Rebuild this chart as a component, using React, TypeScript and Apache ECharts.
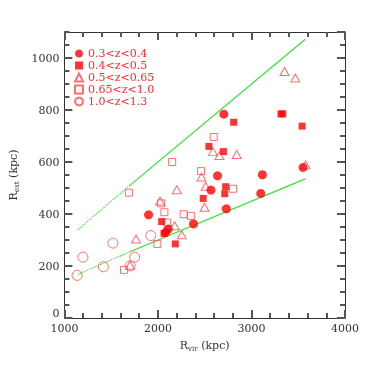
import React, { useEffect, useRef } from "react";
import * as echarts from "echarts";

// z-bin names
const binNames = ["0.3<z<0.4", "0.4<z<0.5", "0.5<z<0.65", "0.65<z<1.0", "1.0<z<1.3"];

// [R_vir, R_ext] in kpc
const bin1: number[][] = [
  [1900, 397], [2085, 330], [2110, 342], [2380, 362], [2567, 492], [2637, 547],
  [2705, 784], [2731, 420], [3099, 479], [3117, 551], [3552, 579],
];
const bin2: number[][] = [
  [2040, 371], [2065, 325], [2186, 285], [2484, 460], [2545, 660], [2700, 640],
  [2714, 478], [2724, 505], [2810, 753], [3315, 785], [3335, 785], [3541, 738],
];
const bin3: number[][] = [
  [1700, 203], [1765, 304], [2022, 450], [2178, 355], [2202, 493], [2254, 320],
  [2465, 542], [2498, 426], [2510, 507], [2588, 640], [2658, 625], [2842, 629],
  [3353, 948], [3468, 923], [3579, 589],
];
const bin4: number[][] = [
  [1638, 185], [1690, 482], [1994, 285], [2035, 441], [2069, 407], [2098, 367],
  [2152, 600], [2275, 399], [2352, 393], [2461, 565], [2596, 696], [2802, 497],
];
const bin5: number[][] = [
  [1136, 164], [1198, 234], [1417, 197], [1518, 288], [1702, 200], [1751, 234], [1923, 317],
];

// green relation lines: dotted (extrapolated) and solid parts
const upperDotted: number[][] = [[1145, 340], [1700, 510]];
const upperSolid: number[][] = [[1700, 510], [3575, 1072]];
const lowerDotted: number[][] = [[1145, 168], [1700, 255]];
const lowerSolid: number[][] = [[1700, 255], [3575, 535]];

const xTicks = [1000, 2000, 3000, 4000];
const yTickLabels = [0, 200, 400, 600, 800, 1000];

const FONT = "DejaVu Serif";
const RED = "#ff0000";
const OPEN = "#ff4a4a";
const GREEN = "#2ee62e";
const AXIS = "#333333";
const TICK = "#555555";

export default function App() {
  const ref = useRef<HTMLDivElement>(null);
  useEffect(() => {
    if (!ref.current) return;
    const chart = echarts.init(ref.current, null, { renderer: "svg" });
    const open = (c: string) => ({ color: "rgba(255,255,255,0)", borderColor: c, borderWidth: 1 });
    const line = (d: number[][], type: string) => ({
      type: "line",
      data: d,
      symbol: "none",
      silent: true,
      z: 1,
      legendHoverLink: false,
      lineStyle: { color: GREEN, width: 1.2, type },
    });
    const subRich = {
      r: { fontFamily: FONT, fontSize: 11, color: "#333" },
      s: { fontFamily: FONT, fontSize: 7, color: "#333", padding: [7, 0, 0, 0] },
    };
    chart.setOption({
      animation: false,
      grid: { left: 57, right: 31, top: 32, bottom: 58 },
      legend: {
        orient: "vertical",
        left: 74,
        top: 48,
        padding: 0,
        itemWidth: 8,
        itemHeight: 8,
        itemGap: 1,
        data: binNames,
        textStyle: { fontFamily: FONT, fontSize: 11, color: "#ff2a2a" },
      },
      xAxis: [
        {
          type: "value",
          min: xTicks[0],
          max: xTicks[xTicks.length - 1],
          interval: 1000,
          splitLine: { show: false },
          axisLine: { show: true, onZero: false, lineStyle: { color: AXIS } },
          axisTick: { show: true, inside: true, length: 8, lineStyle: { color: TICK, width: 2 } },
          minorTick: { show: true, splitNumber: 5, length: 5, lineStyle: { color: TICK, width: 2 } },
          axisLabel: {
            fontFamily: FONT,
            fontSize: 11,
            color: "#333",
            margin: 5,
            formatter: (v: number) => String(v),
          },
          name: "{r|R}{s|vir}{r| (kpc)}",
          nameLocation: "middle",
          nameGap: 20,
          nameTextStyle: { rich: subRich },
        },
        {
          type: "value",
          position: "top",
          min: xTicks[0],
          max: xTicks[xTicks.length - 1],
          interval: 1000,
          splitLine: { show: false },
          axisLine: { show: true, onZero: false, lineStyle: { color: AXIS } },
          axisTick: { show: true, inside: true, length: 8, lineStyle: { color: TICK, width: 2 } },
          minorTick: { show: true, splitNumber: 5, length: 5, lineStyle: { color: TICK, width: 2 } },
          axisLabel: { show: false },
        },
      ],
      yAxis: [
        {
          type: "value",
          min: 0,
          max: 1100,
          interval: 200,
          splitLine: { show: false },
          axisLine: { show: true, onZero: false, lineStyle: { color: AXIS } },
          axisTick: { show: true, inside: true, length: 8, lineStyle: { color: TICK, width: 2 } },
          axisLabel: {
            fontFamily: FONT,
            fontSize: 11,
            color: "#333",
            margin: 5,
            showMaxLabel: false,
            formatter: (v: number) =>
              v === 0 ? "{z|0}" : yTickLabels.indexOf(v) >= 0 ? String(v) : "",
            rich: {
              z: { fontFamily: FONT, fontSize: 11, color: "#333", padding: [0, 0, 10, 0] },
            },
          },
          name: "{r|R}{s|ext}{r| (kpc)}",
          nameLocation: "middle",
          nameRotate: 90,
          nameGap: 40,
          nameTextStyle: { rich: subRich },
        },
        {
          type: "value",
          position: "left",
          min: 0,
          max: 1100,
          interval: 50,
          splitLine: { show: false },
          axisLine: { show: false, onZero: false },
          axisTick: { show: true, inside: true, length: 5, lineStyle: { color: TICK, width: 2 } },
          axisLabel: { show: false },
        },
        {
          type: "value",
          position: "right",
          min: 0,
          max: 1100,
          interval: 200,
          splitLine: { show: false },
          axisLine: { show: true, onZero: false, lineStyle: { color: AXIS } },
          axisTick: { show: true, inside: true, length: 8, lineStyle: { color: TICK, width: 2 } },
          axisLabel: { show: false },
        },
        {
          type: "value",
          position: "right",
          min: 0,
          max: 1100,
          interval: 50,
          splitLine: { show: false },
          axisLine: { show: false, onZero: false },
          axisTick: { show: true, inside: true, length: 5, lineStyle: { color: TICK, width: 2 } },
          axisLabel: { show: false },
        },
      ],
      series: [
        line(upperDotted, "dotted"),
        line(upperSolid, "solid"),
        line(lowerDotted, "dotted"),
        line(lowerSolid, "solid"),
        {
          name: binNames[0], type: "scatter", data: bin1, symbol: "circle", symbolSize: 9, z: 5,
          itemStyle: { color: RED },
        },
        {
          name: binNames[1], type: "scatter", data: bin2, symbol: "rect", symbolSize: 7, z: 5,
          itemStyle: { color: RED },
        },
        {
          name: binNames[2], type: "scatter", data: bin3, symbol: "triangle", symbolSize: [9, 8], z: 4,
          itemStyle: open(OPEN),
        },
        {
          name: binNames[3], type: "scatter", data: bin4, symbol: "rect", symbolSize: 7, z: 4,
          itemStyle: open(OPEN),
        },
        {
          name: binNames[4], type: "scatter", data: bin5, symbol: "circle", symbolSize: 10, z: 4,
          itemStyle: open(OPEN),
        },
      ],
    });
    return () => chart.dispose();
  }, []);
  return (
    <div
      ref={ref}
      style={{ position: "fixed", left: 0, top: 0, width: 376, height: 376 }}
    />
  );
}
